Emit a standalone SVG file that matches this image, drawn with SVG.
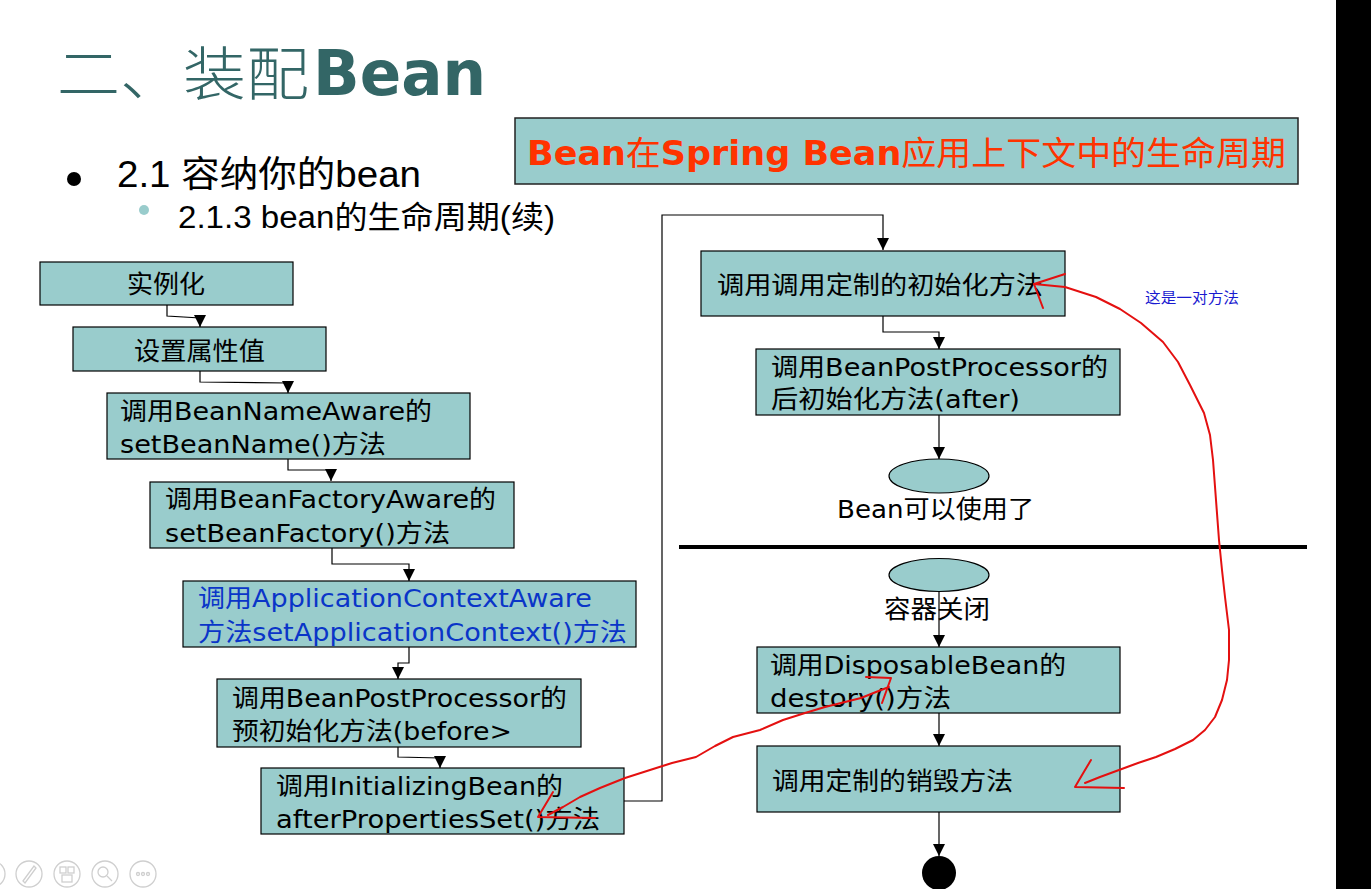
<svg xmlns="http://www.w3.org/2000/svg" width="1371" height="889" viewBox="0 0 1371 889">
<style>
.box{fill:#99cccc;stroke:#000;stroke-width:1.2}
.t{font-family:"DejaVu Sans","Noto Sans CJK SC",sans-serif;font-size:25px;fill:#000}
.blue{fill:#0a35c8}
.conn{fill:none;stroke:#000;stroke-width:1.2;marker-end:url(#arr)}
.red{fill:none;stroke:#e41010;stroke-width:2;stroke-linecap:round;stroke-linejoin:round}
.icon{fill:none;stroke:#cfcfcf;stroke-width:1.3}
</style>
<defs>
<marker id="arr" markerUnits="userSpaceOnUse" markerWidth="12" markerHeight="12" refX="12" refY="6" orient="auto">
<path d="M0,0 L12,6 L0,12 z" fill="#000"/>
</marker>
</defs>
<rect x="0" y="0" width="1371" height="889" fill="#fff"/>
<rect x="1336" y="0" width="35" height="889" fill="#000"/>

<g id="title">
<text x="57" y="95" font-family="'Noto Sans CJK SC',sans-serif" font-weight="300" font-size="58" fill="#336666" textLength="252" lengthAdjust="spacingAndGlyphs">二、装配</text>
<text x="313" y="95" font-family="'DejaVu Sans',sans-serif" font-weight="bold" font-size="62" fill="#336666" textLength="173" lengthAdjust="spacingAndGlyphs">Bean</text>
</g>
<g id="bullets">
<circle cx="74" cy="179" r="7" fill="#000"/>
<text x="117" y="187" font-family="'Liberation Sans','Noto Sans CJK SC',sans-serif" font-size="36" fill="#000" textLength="304" lengthAdjust="spacingAndGlyphs">2.1 容纳你的bean</text>
<circle cx="144" cy="210" r="5" fill="#99cccc"/>
<text x="178" y="228" font-family="'Liberation Sans','Noto Sans CJK SC',sans-serif" font-size="31" fill="#000" textLength="377" lengthAdjust="spacingAndGlyphs">2.1.3 bean的生命周期(续)</text>
</g>

<g id="header-box">
<rect x="515" y="118" width="783" height="66" fill="#99cccc" stroke="#222" stroke-width="1.5"/>
<text x="527" y="165" font-family="'DejaVu Sans','Noto Sans CJK SC',sans-serif" font-size="33" fill="#ff3300" textLength="759" lengthAdjust="spacingAndGlyphs"><tspan font-weight="bold">Bean</tspan>在<tspan font-weight="bold">Spring Bean</tspan>应用上下文中的生命周期</text>
</g>

<g id="connectors">
<path class="conn" d="M167,305 V316 L200,318 V327"/>
<path class="conn" d="M200,371 V382 L288,383 V393"/>
<path class="conn" d="M288,459 V470 H331 V481"/>
<path class="conn" d="M332,548 V564 H409 V581"/>
<path class="conn" d="M409,647 V663 H398 V679"/>
<path class="conn" d="M398,747 V757 L440,758 V768"/>
<path class="conn" d="M624,801 H662 V215 H883 V250"/>
<path class="conn" d="M883,316 V332 H939 V349"/>
<path class="conn" d="M939,415 V459"/>
<path class="conn" d="M939,591 V647"/>
<path class="conn" d="M939,713 V746"/>
<path class="conn" d="M939,812 V856"/>
<line x1="679" y1="547" x2="1307" y2="547" stroke="#000" stroke-width="4"/>
</g>

<g id="n1"><rect class="box" x="40" y="262" width="253" height="43"/><text class="t" x="127" y="293" textLength="78" lengthAdjust="spacingAndGlyphs">实例化</text></g>
<g id="n2"><rect class="box" x="73" y="327" width="253" height="44"/><text class="t" x="134" y="360" textLength="131" lengthAdjust="spacingAndGlyphs">设置属性值</text></g>
<g id="n3"><rect class="box" x="107" y="393" width="363" height="66"/>
<text class="t" x="120" y="420" textLength="312" lengthAdjust="spacingAndGlyphs">调用BeanNameAware的</text>
<text class="t" x="120" y="453" textLength="266" lengthAdjust="spacingAndGlyphs">setBeanName()方法</text></g>
<g id="n4"><rect class="box" x="150" y="482" width="364" height="66"/>
<text class="t" x="165" y="508" textLength="331" lengthAdjust="spacingAndGlyphs">调用BeanFactoryAware的</text>
<text class="t" x="165" y="542" textLength="285" lengthAdjust="spacingAndGlyphs">setBeanFactory()方法</text></g>
<g id="n5"><rect class="box" x="183" y="581" width="453" height="66"/>
<text class="t blue" x="198" y="607" textLength="394" lengthAdjust="spacingAndGlyphs">调用ApplicationContextAware</text>
<text class="t blue" x="198" y="641" textLength="429" lengthAdjust="spacingAndGlyphs">方法setApplicationContext()方法</text></g>
<g id="n6"><rect class="box" x="217" y="679" width="364" height="68"/>
<text class="t" x="232" y="707" textLength="335" lengthAdjust="spacingAndGlyphs">调用BeanPostProcessor的</text>
<text class="t" x="232" y="740" textLength="280" lengthAdjust="spacingAndGlyphs">预初始化方法(before&gt;</text></g>
<g id="n7"><rect class="box" x="261" y="768" width="363" height="66"/>
<text class="t" x="276" y="795" textLength="287" lengthAdjust="spacingAndGlyphs">调用InitializingBean的</text>
<text class="t" x="276" y="828" textLength="324" lengthAdjust="spacingAndGlyphs">afterPropertiesSet()方法</text></g>

<g id="n8"><rect class="box" x="701" y="251" width="364" height="65"/>
<text class="t" x="717" y="294" font-size="28" textLength="326" lengthAdjust="spacingAndGlyphs">调用调用定制的初始化方法</text></g>
<g id="n9"><rect class="box" x="756" y="349" width="364" height="66"/>
<text class="t" x="771" y="376" textLength="337" lengthAdjust="spacingAndGlyphs">调用BeanPostProcessor的</text>
<text class="t" x="771" y="408" textLength="249" lengthAdjust="spacingAndGlyphs">后初始化方法(after)</text></g>
<g id="n-ready"><ellipse class="box" cx="939" cy="476" rx="50" ry="17"/>
<text class="t" x="837" y="518" textLength="197" lengthAdjust="spacingAndGlyphs">Bean可以使用了</text></g>
<g id="n-close"><ellipse class="box" cx="939" cy="575" rx="50" ry="16.5"/>
<text class="t" x="884" y="618" textLength="106" lengthAdjust="spacingAndGlyphs">容器关闭</text></g>
<g id="n10"><rect class="box" x="757" y="647" width="363" height="66"/>
<text class="t" x="770" y="674" textLength="296" lengthAdjust="spacingAndGlyphs">调用DisposableBean的</text>
<text class="t" x="770" y="707" textLength="181" lengthAdjust="spacingAndGlyphs">destory()方法</text></g>
<g id="n11"><rect class="box" x="757" y="746" width="363" height="66"/>
<text class="t" x="772" y="790" textLength="241" lengthAdjust="spacingAndGlyphs">调用定制的销毁方法</text></g>
<g id="n-end"><ellipse cx="939" cy="873" rx="17" ry="17" fill="#000"/></g>

<g id="annotation">
<text x="1145" y="303" font-family="'Noto Sans CJK SC',sans-serif" font-size="15" fill="#1a1ad0" textLength="94" lengthAdjust="spacingAndGlyphs">这是一对方法</text>
<path class="red" d="M1034,284 L1065,287 L1096,297 L1120,309 L1141,323 L1163,342 L1178,362 L1190,385 L1204,413 L1210,435 L1213,460 L1216,500 L1219,540 L1222,570 L1225,597 L1229,630 L1229,660 L1227,680 L1222,700 L1215,717 L1205,730 L1193,740 L1175,749 L1156,757 L1138,763 L1119,770 L1100,777 L1085,783"/>
<path class="red" d="M1065,274 L1034,284 L1043,308"/>
<path class="red" d="M1091,760 Q1082,775 1075,787 L1124,788"/>
<path class="red" d="M548,815 L563,807 L580,797 L600,788 L625,778 L650,770 L672,763 L696,757 L715,746 L733,737 L760,730 L783,720 L805,713 L825,707 L845,702 L861,698 L876,692 L889,687"/>
<path class="red" d="M866,677 L891,678 L882,703"/>
<path class="red" d="M553,792 L538,817 L595,818"/>
</g>

<g id="toolbar">
<circle class="icon" cx="-8" cy="874" r="13"/>
<circle class="icon" cx="29" cy="874" r="13"/>
<path class="icon" d="M23,881 L34,866 L36,868 L25,883 z"/>
<circle class="icon" cx="67" cy="874" r="13"/>
<rect class="icon" x="60" y="867" width="6" height="6"/><rect class="icon" x="68" y="867" width="6" height="6"/><rect class="icon" x="62" y="875" width="10" height="7"/>
<circle class="icon" cx="105" cy="874" r="13"/>
<circle class="icon" cx="103" cy="872" r="5"/><path class="icon" d="M107,876 L112,881"/>
<circle class="icon" cx="143" cy="874" r="13"/>
<circle class="icon" cx="138" cy="874" r="1.5"/><circle class="icon" cx="143" cy="874" r="1.5"/><circle class="icon" cx="148" cy="874" r="1.5"/>
</g>
</svg>
